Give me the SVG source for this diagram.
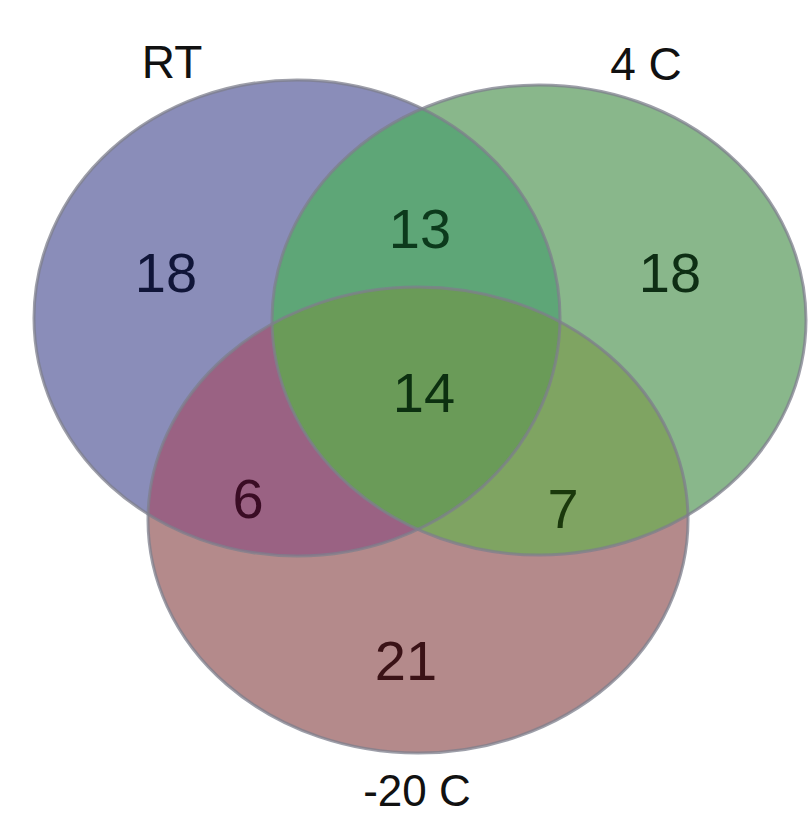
<svg xmlns="http://www.w3.org/2000/svg" width="811" height="823" viewBox="0 0 811 823">
<style>
.lbl{font-family:"Liberation Sans",Arial,sans-serif;font-size:46px;fill:#111;text-anchor:middle}
.num{font-family:"Liberation Sans",Arial,sans-serif;font-size:56px;text-anchor:middle}
.edge{fill:none;stroke:#7d7f8c;stroke-width:3;stroke-opacity:0.75}
</style>
<defs>
<ellipse id="eA" cx="297" cy="318" rx="263" ry="238"/>
<ellipse id="eB" cx="539" cy="320" rx="267" ry="235"/>
<ellipse id="eC" cx="418" cy="520" rx="270" ry="233"/>
<clipPath id="cA"><use href="#eA"/></clipPath>
<clipPath id="cB"><use href="#eB"/></clipPath>
</defs>
<rect width="811" height="823" fill="#ffffff"/>
<g id="regions">
<use href="#eA" fill="#8a8db9"/>
<use href="#eB" fill="#89b78b"/>
<use href="#eC" fill="#b48a8b"/>
<use href="#eB" fill="#5ea677" clip-path="url(#cA)"/>
<use href="#eC" fill="#9a6283" clip-path="url(#cA)"/>
<use href="#eC" fill="#7fa462" clip-path="url(#cB)"/>
<g clip-path="url(#cB)"><use href="#eC" fill="#6a9b58" clip-path="url(#cA)"/></g>
</g>
<g id="node-rt"><use href="#eA" class="edge"/><text class="lbl" x="172" y="78">RT</text><text class="num" x="166" y="292" fill="#101538">18</text></g>
<g id="node-4c"><use href="#eB" class="edge"/><text class="lbl" x="646" y="80">4 C</text><text class="num" x="670" y="292" fill="#0e2e14">18</text></g>
<g id="node-20c"><use href="#eC" class="edge"/><text class="lbl" x="417" y="806" style="font-size:44px">-20 C</text><text class="num" x="406" y="680" fill="#3a1216">21</text></g>
<g id="overlaps">
<text class="num" x="420" y="248" fill="#0c3a1c">13</text>
<text class="num" x="424" y="412" fill="#0c3010">14</text>
<text class="num" x="248" y="518" fill="#3a0c24">6</text>
<text class="num" x="563" y="528" fill="#1a380c">7</text>
</g>
<g id="connectors"/>
</svg>
